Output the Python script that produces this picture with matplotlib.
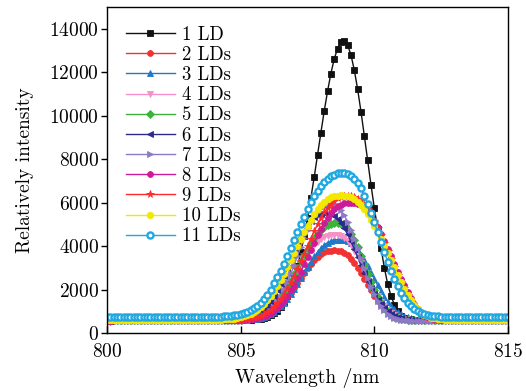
import numpy as np
import matplotlib
matplotlib.use("Agg")
import matplotlib.pyplot as plt

plt.rcParams['font.family'] = 'serif'
plt.rcParams['font.serif'] = ['cmr10', 'DejaVu Serif']
plt.rcParams['axes.formatter.use_mathtext'] = True
plt.rcParams['mathtext.fontset'] = 'cm'

# wavelength grid (nm), one sample every 0.125 nm
wavelength = [800 + 0.125 * i for i in range(121)]

labels = ["1 LD", "2 LDs", "3 LDs", "4 LDs", "5 LDs", "6 LDs",
          "7 LDs", "8 LDs", "9 LDs", "10 LDs", "11 LDs"]

ld1 = [585, 585, 586, 586, 587, 587, 588, 588, 589, 589,
       590, 590, 591, 591, 592, 592, 593, 593, 594, 594,
       595, 595, 596, 596, 597, 597, 598, 598, 599, 599,
       600, 601, 602, 603, 604, 605, 606, 607, 608, 609,
       611, 613, 615, 620, 630, 640, 665, 695, 745, 810,
       900, 1030, 1200, 1430, 1720, 2080, 2530, 3070, 3710, 4450,
       5280, 6200, 7170, 8190, 9210, 10210, 11120, 11940, 12610, 13090,
       13380, 13450, 13250, 12800, 12100, 11220, 10190, 9080, 7940, 6810,
       5750, 4770, 3910, 3000, 2250, 1700, 1300, 1000, 800, 700,
       650, 625, 615, 610, 607, 605, 603, 602, 601, 600,
       600, 600, 600, 600, 600, 600, 600, 600, 600, 600,
       600, 600, 600, 600, 600, 600, 600, 600, 600, 600,
       600]

ld2 = [575, 575, 576, 576, 577, 577, 578, 578, 579, 579,
       580, 580, 581, 581, 582, 582, 583, 583, 584, 584,
       585, 585, 586, 586, 587, 587, 588, 588, 589, 589,
       590, 590, 591, 591, 592, 592, 593, 594, 595, 597,
       599, 604, 613, 625, 644, 670, 707, 755, 819, 901,
       1003, 1128, 1275, 1445, 1636, 1845, 2070, 2302, 2537, 2766,
       2986, 3185, 3362, 3508, 3627, 3712, 3766, 3795, 3800, 3792,
       3755, 3680, 3566, 3412, 3218, 2996, 2746, 2483, 2218, 1957,
       1710, 1488, 1291, 1121, 984, 873, 790, 726, 680, 648,
       625, 612, 603, 598, 595, 594, 593, 592, 591, 590,
       590, 590, 590, 590, 590, 590, 590, 590, 590, 590,
       590, 590, 590, 590, 590, 590, 590, 590, 590, 590,
       590]

ld3 = [575, 575, 576, 576, 577, 577, 578, 578, 579, 579,
       580, 580, 581, 581, 582, 582, 583, 583, 584, 584,
       585, 585, 586, 586, 587, 587, 588, 588, 589, 589,
       590, 590, 591, 591, 592, 592, 593, 594, 595, 596,
       598, 603, 611, 622, 639, 663, 696, 740, 798, 873,
       967, 1085, 1225, 1389, 1578, 1791, 2021, 2269, 2528, 2789,
       3046, 3289, 3521, 3725, 3903, 4048, 4157, 4234, 4280, 4299,
       4300, 4280, 4226, 4133, 3996, 3818, 3598, 3349, 3072, 2779,
       2487, 2198, 1923, 1671, 1447, 1254, 1092, 960, 855, 776,
       718, 675, 644, 625, 611, 603, 598, 595, 593, 591,
       590, 590, 590, 590, 590, 590, 590, 590, 590, 590,
       590, 590, 590, 590, 590, 590, 590, 590, 590, 590,
       590]

ld4 = [575, 575, 576, 576, 577, 577, 578, 578, 579, 579,
       580, 580, 581, 581, 582, 582, 583, 583, 584, 584,
       585, 585, 586, 586, 587, 587, 588, 588, 589, 589,
       590, 590, 591, 591, 592, 593, 595, 598, 602, 608,
       619, 633, 654, 683, 722, 773, 840, 922, 1026, 1153,
       1302, 1472, 1674, 1892, 2129, 2381, 2644, 2907, 3169, 3422,
       3654, 3867, 4050, 4203, 4324, 4409, 4465, 4493, 4500, 4490,
       4445, 4353, 4215, 4027, 3791, 3521, 3216, 2896, 2573, 2254,
       1955, 1683, 1444, 1237, 1069, 935, 834, 756, 699, 660,
       633, 616, 606, 600, 596, 594, 593, 592, 591, 590,
       590, 590, 590, 590, 590, 590, 590, 590, 590, 590,
       590, 590, 590, 590, 590, 590, 590, 590, 590, 590,
       590]

ld5 = [575, 575, 576, 576, 577, 577, 578, 578, 579, 579,
       580, 580, 581, 581, 582, 582, 583, 583, 584, 584,
       585, 585, 586, 586, 587, 587, 588, 588, 589, 589,
       590, 590, 591, 591, 592, 593, 594, 596, 600, 605,
       613, 626, 643, 668, 703, 750, 812, 891, 991, 1115,
       1264, 1439, 1643, 1874, 2129, 2401, 2694, 2992, 3295, 3592,
       3875, 4137, 4371, 4575, 4742, 4872, 4963, 5019, 5045, 5050,
       5025, 4943, 4797, 4577, 4292, 3944, 3557, 3146, 2731, 2331,
       1962, 1643, 1370, 1148, 976, 850, 756, 695, 652, 626,
       610, 602, 598, 595, 594, 593, 592, 591, 590, 590,
       590, 590, 590, 590, 590, 590, 590, 590, 590, 590,
       590, 590, 590, 590, 590, 590, 590, 590, 590, 590,
       590]

ld6 = [575, 575, 576, 576, 577, 577, 578, 578, 579, 579,
       580, 580, 581, 581, 582, 582, 583, 583, 584, 584,
       585, 585, 586, 586, 587, 587, 588, 588, 589, 589,
       590, 590, 591, 591, 592, 593, 595, 598, 602, 609,
       621, 640, 667, 706, 764, 839, 941, 1073, 1237, 1440,
       1680, 1958, 2269, 2608, 2971, 3345, 3718, 4076, 4411, 4709,
       4965, 5173, 5327, 5428, 5483, 5500, 5494, 5456, 5377, 5240,
       5053, 4818, 4538, 4214, 3860, 3492, 3119, 2753, 2402, 2078,
       1785, 1530, 1313, 1134, 991, 880, 793, 729, 683, 650,
       628, 613, 604, 599, 596, 594, 593, 592, 591, 590,
       590, 590, 590, 590, 590, 590, 590, 590, 590, 590,
       590, 590, 590, 590, 590, 590, 590, 590, 590, 590,
       590]

ld7 = [548, 548, 549, 549, 550, 550, 551, 551, 552, 552,
       553, 553, 554, 554, 555, 555, 556, 556, 557, 557,
       558, 558, 559, 559, 560, 560, 561, 561, 562, 562,
       563, 563, 564, 564, 565, 565, 566, 567, 568, 569,
       570, 575, 585, 601, 626, 663, 717, 793, 895, 1028,
       1201, 1418, 1676, 1982, 2332, 2711, 3122, 3545, 3965, 4373,
       4751, 5087, 5370, 5589, 5749, 5846, 5892, 5900, 5876, 5793,
       5641, 5414, 5118, 4755, 4340, 3892, 3428, 2969, 2530, 2131,
       1779, 1478, 1230, 1036, 890, 781, 702, 648, 614, 592,
       580, 570, 565, 562, 560, 559, 558, 557, 556, 555,
       555, 555, 555, 555, 555, 555, 555, 555, 555, 555,
       555, 555, 555, 555, 555, 555, 555, 555, 555, 555,
       555]

ld8 = [575, 575, 576, 576, 577, 577, 578, 578, 579, 579,
       580, 580, 581, 581, 582, 582, 583, 583, 584, 584,
       585, 585, 586, 586, 587, 587, 588, 588, 589, 589,
       590, 590, 591, 591, 592, 593, 594, 595, 597, 600,
       605, 613, 624, 639, 660, 690, 729, 781, 850, 935,
       1039, 1170, 1325, 1507, 1718, 1960, 2228, 2516, 2829, 3155,
       3491, 3832, 4163, 4489, 4790, 5065, 5308, 5514, 5689, 5822,
       5912, 5970, 5996, 6000, 5986, 5945, 5868, 5747, 5586, 5383,
       5141, 4862, 4553, 4216, 3871, 3520, 3166, 2826, 2502, 2200,
       1880, 1600, 1340, 1120, 950, 830, 740, 685, 650, 625,
       610, 602, 598, 595, 594, 593, 592, 591, 590, 590,
       590, 590, 590, 590, 590, 590, 590, 590, 590, 590,
       590]

ld9 = [575, 575, 576, 576, 577, 577, 578, 578, 579, 579,
       580, 580, 581, 581, 582, 582, 583, 583, 584, 584,
       585, 585, 586, 586, 587, 587, 588, 588, 589, 589,
       590, 590, 591, 591, 592, 593, 595, 598, 601, 606,
       615, 628, 645, 670, 702, 746, 801, 874, 967, 1078,
       1216, 1380, 1574, 1794, 2048, 2325, 2631, 2953, 3297, 3644,
       3995, 4344, 4680, 4998, 5285, 5546, 5763, 5949, 6095, 6194,
       6258, 6292, 6300, 6291, 6253, 6178, 6064, 5896, 5698, 5446,
       5158, 4836, 4489, 4127, 3757, 3383, 3021, 2676, 2350, 2055,
       1750, 1480, 1250, 1060, 910, 800, 720, 670, 640, 620,
       607, 600, 595, 594, 593, 592, 591, 590, 590, 590,
       590, 590, 590, 590, 590, 590, 590, 590, 590, 590,
       590]

ld10 = [585, 585, 586, 586, 587, 587, 588, 588, 589, 589,
        590, 590, 591, 591, 592, 592, 593, 593, 594, 594,
        595, 595, 596, 596, 597, 597, 598, 598, 599, 599,
        600, 602, 605, 609, 614, 622, 632, 646, 663, 689,
        723, 765, 819, 887, 974, 1074, 1199, 1344, 1516, 1710,
        1933, 2179, 2447, 2734, 3039, 3357, 3682, 4008, 4333, 4648,
        4946, 5222, 5473, 5694, 5880, 6035, 6154, 6241, 6297, 6323,
        6330, 6323, 6297, 6241, 6154, 6035, 5880, 5694, 5473, 5222,
        4946, 4648, 4333, 4008, 3682, 3357, 3039, 2650, 2330, 2030,
        1750, 1500, 1280, 1100, 960, 850, 770, 710, 670, 645,
        628, 617, 610, 605, 602, 600, 600, 600, 600, 600,
        600, 600, 600, 600, 600, 600, 600, 600, 600, 600,
        600]

ld11 = [715, 716, 717, 718, 719, 720, 721, 722, 723, 724,
        725, 726, 727, 728, 729, 730, 731, 732, 733, 734,
        735, 736, 737, 738, 739, 740, 741, 742, 743, 744,
        745, 746, 747, 750, 757, 765, 775, 790, 810, 835,
        870, 915, 975, 1050, 1140, 1250, 1390, 1560, 1760, 2000,
        2280, 2560, 2870, 3190, 3530, 3890, 4260, 4630, 5000, 5340,
        5690, 6010, 6290, 6550, 6770, 6960, 7105, 7215, 7290, 7340,
        7350, 7345, 7305, 7225, 7090, 6890, 6650, 6315, 5940, 5535,
        5090, 4640, 4180, 3720, 3280, 2870, 2480, 2140, 1850, 1600,
        1390, 1220, 1090, 990, 915, 860, 820, 795, 775, 762,
        755, 750, 748, 747, 746, 745, 744, 743, 742, 741,
        740, 740, 740, 740, 740, 740, 740, 740, 740, 740,
        740]

series = [ld1, ld2, ld3, ld4, ld5, ld6, ld7, ld8, ld9, ld10, ld11]

colors = ['#111111', '#f03232', '#1f78c8', '#f590c8', '#3cb43c', '#2a2a8f',
          '#9078c8', '#cc1a99', '#ff2a2a', '#f5e800', '#22a8e0']
markers = ['s', 'o', '^', 'v', 'D', '<', '>', 'o', '*', 'o', 'o']
msizes = [4.4, 4.2, 4.6, 4.6, 3.8, 4.6, 4.6, 4.2, 5.5, 4.6, 4.4]

fig = plt.figure(figsize=(5.26, 3.91), dpi=100)
ax = fig.add_axes([107 / 526, 1 - 333 / 391, (508 - 107) / 526, (333 - 7) / 391])

for k, (vals, lab) in enumerate(zip(series, labels)):
    kw = dict(color=colors[k], marker=markers[k], markersize=msizes[k],
              linewidth=1.0, label=lab, markeredgewidth=0.6,
              markeredgecolor=colors[k], markerfacecolor=colors[k])
    if k == 10:
        kw.update(markerfacecolor='white', markeredgewidth=1.7)
    ax.plot(wavelength, vals, **kw)

ax.set_xlim(800, 815)
ax.set_ylim(0, 15000)
ax.set_xticks([800, 805, 810, 815])
ax.set_yticks(list(range(0, 15000, 2000)))
ax.tick_params(axis='x', direction='in', length=5, width=1, labelsize=14, pad=7)
ax.tick_params(axis='y', direction='out', length=4, width=1, labelsize=14, pad=2)
for sp in ax.spines.values():
    sp.set_linewidth(1.0)

ax.set_xlabel('Wavelength /nm', fontsize=14, labelpad=5)
ax.set_ylabel('Relatively intensity', fontsize=14, labelpad=11)

leg = ax.legend(loc='upper left', frameon=False, fontsize=13.5,
                handlelength=2.6, handletextpad=0.4, labelspacing=0.12,
                borderaxespad=0.6, bbox_to_anchor=(0.0, 1.0))

fig.savefig('out.png', dpi=100)
